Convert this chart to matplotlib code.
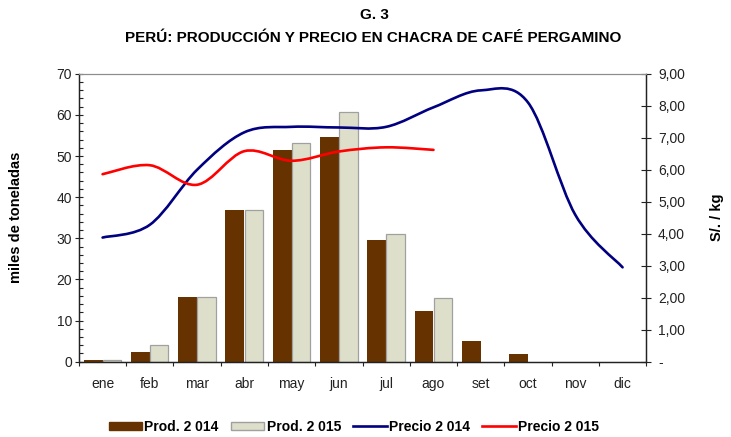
import numpy as np
import matplotlib
matplotlib.use("Agg")
import matplotlib.pyplot as plt
from matplotlib.path import Path
from matplotlib.patches import PathPatch
from matplotlib.lines import Line2D
from matplotlib.ticker import FixedLocator, FuncFormatter

plt.rcParams['font.family'] = ['Liberation Sans', 'DejaVu Sans']

months = ['ene', 'feb', 'mar', 'abr', 'may', 'jun', 'jul', 'ago', 'set', 'oct', 'nov', 'dic']
prod_2014 = [0.4, 2.4, 15.7, 36.8, 51.4, 54.6, 29.6, 12.3, 5.0, 1.9, 0, 0]
prod_2015 = [0.3, 4.0, 15.7, 36.8, 53.1, 60.8, 31.0, 15.6]
precio_2014 = [3.88, 4.28, 6.00, 7.17, 7.34, 7.32, 7.34, 7.95, 8.48, 8.10, 4.59, 2.95]
precio_2015 = [5.86, 6.14, 5.53, 6.58, 6.28, 6.57, 6.70, 6.62]

c_2014 = '#663300'
c_2015 = '#DEDFCB'
c_blue = '#000080'
c_red = '#FF0000'


def smooth_path(xs, ys):
    # Excel-style smoothed line: Catmull-Rom converted to cubic Bezier segments
    pts = np.column_stack([xs, ys]).astype(float)
    n = len(pts)
    verts = [pts[0]]
    codes = [Path.MOVETO]
    for i in range(n - 1):
        p0 = pts[i - 1] if i > 0 else pts[i]
        p1 = pts[i]
        p2 = pts[i + 1]
        p3 = pts[i + 2] if i + 2 < n else pts[i + 1]
        verts += [p1 + (p2 - p0) / 6, p2 - (p3 - p1) / 6, p2]
        codes += [Path.CURVE4] * 3
    return Path(verts, codes)


fig = plt.figure(figsize=(7.31, 4.37), dpi=100)
ax = fig.add_axes([0.108, 0.1723, 0.776, 0.659])
ax2 = ax.twinx()

x = np.arange(len(months))
w = 0.4
ax.bar(x - w / 2, prod_2014, width=w, color=c_2014, zorder=2)
ax.bar(np.arange(len(prod_2015)) + w / 2, prod_2015, width=w * 0.97,
       color=c_2015, edgecolor='#A0A0A0', linewidth=0.9, zorder=2)

ax2.add_patch(PathPatch(smooth_path(x, precio_2014), fill=False,
                        edgecolor=c_blue, linewidth=1.9, capstyle='round'))
ax2.add_patch(PathPatch(smooth_path(np.arange(len(precio_2015)), precio_2015), fill=False,
                        edgecolor=c_red, linewidth=1.9, capstyle='round'))

ax.set_xlim(-0.5, 11.5)
ax.set_ylim(0, 70)
ax2.set_ylim(0, 9)

# axes styling
ax.set_yticks(np.arange(0, 71, 10))
ax.yaxis.set_minor_locator(FixedLocator(np.arange(0, 71, 2)))
ax.tick_params(axis='y', which='major', direction='inout', length=6, width=0.8,
               labelsize=10, pad=2, colors='#222222')
ax.tick_params(axis='y', which='minor', direction='in', length=3, width=0.8, color='#222222')
ax.set_xticks(x)
ax.set_xticklabels(months)
ax.xaxis.set_minor_locator(FixedLocator(np.arange(-0.5, 12, 1)))
ax.tick_params(axis='x', which='major', length=0, labelsize=10, pad=11, colors='#222222')
ax.tick_params(axis='x', which='minor', direction='out', length=3, width=0.8, color='#222222')

ax2.set_yticks(np.arange(0, 9.01, 1))
ax2.yaxis.set_major_formatter(FuncFormatter(
    lambda v, p: '-' if v == 0 else f'{v:.2f}'.replace('.', ',')))
ax2.tick_params(axis='y', direction='inout', length=7, width=0.8, labelsize=10, pad=5,
                colors='#222222')

for a in (ax, ax2):
    a.spines['top'].set_color('#8C8C8C')
    for s in ('left', 'right', 'bottom'):
        a.spines[s].set_color('#222222')
        a.spines[s].set_linewidth(0.9)

ax.set_ylabel('miles de toneladas', fontsize=10.5, fontweight='bold', labelpad=24)
ax2.set_ylabel('S/. / kg', fontsize=10.5, fontweight='bold', labelpad=18)

fig.text(0.512, 0.965, 'G. 3', ha='center', va='center', fontsize=11, fontweight='bold')
fig.text(0.511, 0.913, 'PERÚ: PRODUCCIÓN Y PRECIO EN CHACRA DE CAFÉ PERGAMINO', ha='center',
         va='center', fontsize=11, fontweight='bold')

handles = [
    plt.Rectangle((0, 0), 1, 1, facecolor=c_2014, edgecolor=c_2014),
    plt.Rectangle((0, 0), 1, 1, facecolor=c_2015, edgecolor='#A0A0A0'),
    Line2D([], [], color=c_blue, linewidth=1.9),
    Line2D([], [], color=c_red, linewidth=1.9),
]
labels = ['Prod. 2 014', 'Prod. 2 015', 'Precio 2 014', 'Precio 2 015']
fig.legend(handles, labels, loc='center', bbox_to_anchor=(0.484, 0.023), ncol=4,
           frameon=False, prop={'size': 10, 'weight': 'bold'}, handlelength=2.4,
           handleheight=0.55, handletextpad=0.15, columnspacing=0.9)

fig.savefig('out.png', dpi=100)
